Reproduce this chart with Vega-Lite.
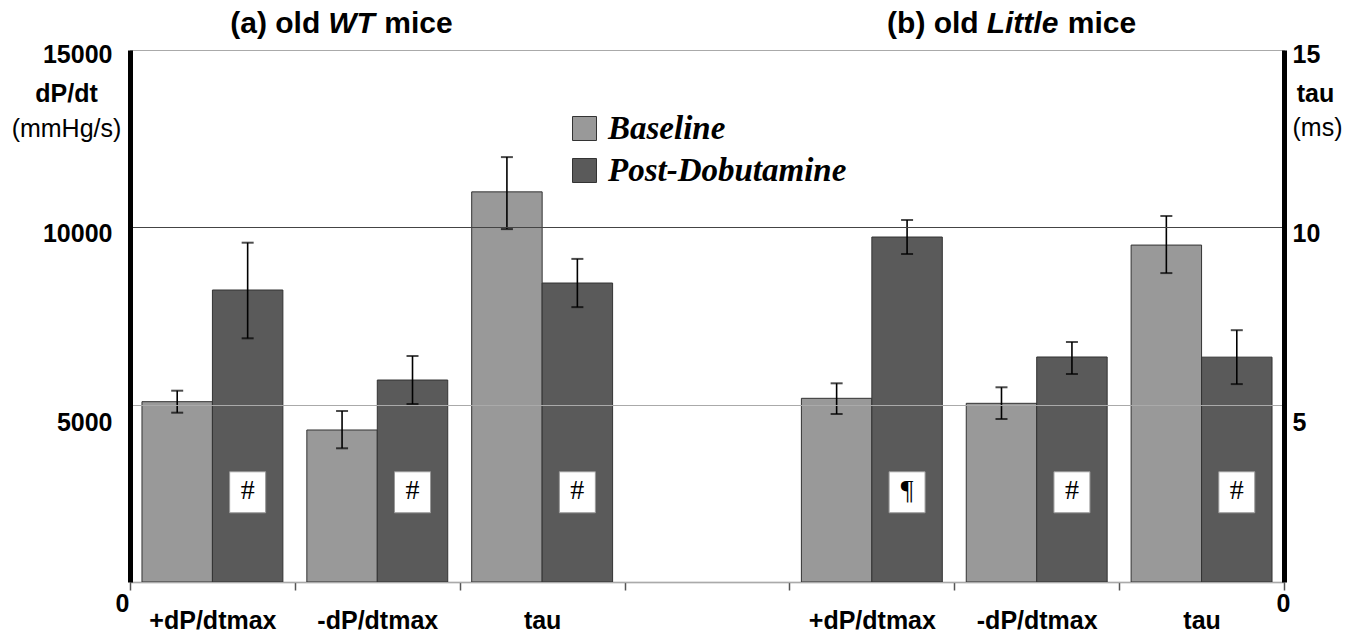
{
  "$schema": "https://vega.github.io/schema/vega-lite/v6.json",
  "autosize": {"type": "none"},
  "width": 1154,
  "height": 532,
  "padding": {"left": 130, "top": 50, "right": 74, "bottom": 53},
  "background": "white",
  "config": {
    "view": {"stroke": "#9a9a9a", "strokeWidth": 1},
    "font": "Liberation Sans"
  },
  "datasets": {
    "bars": [
      {"key": "WT +dP/dtmax", "unit": "dP", "cond": "Baseline", "mean": 5084, "lo": 4774, "hi": 5394},
      {"key": "WT +dP/dtmax", "unit": "dP", "cond": "Post-Dobutamine", "mean": 8233, "lo": 6871, "hi": 9567},
      {"key": "WT -dP/dtmax", "unit": "dP", "cond": "Baseline", "mean": 4286, "lo": 3770, "hi": 4821},
      {"key": "WT -dP/dtmax", "unit": "dP", "cond": "Post-Dobutamine", "mean": 5695, "lo": 5019, "hi": 6372},
      {"key": "WT tau", "unit": "tau", "cond": "Baseline", "mean": 11.0, "lo": 9.95, "hi": 11.98},
      {"key": "WT tau", "unit": "tau", "cond": "Post-Dobutamine", "mean": 8.43, "lo": 7.75, "hi": 9.11},
      {"key": "Little +dP/dtmax", "unit": "dP", "cond": "Baseline", "mean": 5179, "lo": 4737, "hi": 5602},
      {"key": "Little +dP/dtmax", "unit": "dP", "cond": "Post-Dobutamine", "mean": 9727, "lo": 9248, "hi": 10207},
      {"key": "Little -dP/dtmax", "unit": "dP", "cond": "Baseline", "mean": 5038, "lo": 4596, "hi": 5490},
      {"key": "Little -dP/dtmax", "unit": "dP", "cond": "Post-Dobutamine", "mean": 6344, "lo": 5864, "hi": 6767},
      {"key": "Little tau", "unit": "tau", "cond": "Baseline", "mean": 9.5, "lo": 8.71, "hi": 10.32},
      {"key": "Little tau", "unit": "tau", "cond": "Post-Dobutamine", "mean": 6.34, "lo": 5.58, "hi": 7.10}
    ],
    "notes": [
      {"key": "WT +dP/dtmax", "cond": "Post-Dobutamine", "sym": "#"},
      {"key": "WT -dP/dtmax", "cond": "Post-Dobutamine", "sym": "#"},
      {"key": "WT tau", "cond": "Post-Dobutamine", "sym": "#"},
      {"key": "Little +dP/dtmax", "cond": "Post-Dobutamine", "sym": "¶"},
      {"key": "Little -dP/dtmax", "cond": "Post-Dobutamine", "sym": "#"},
      {"key": "Little tau", "cond": "Post-Dobutamine", "sym": "#"}
    ]
  },
  "encoding": {
    "x": {
      "field": "key", "type": "nominal",
      "scale": {"domain": ["WT +dP/dtmax", "WT -dP/dtmax", "WT tau", "gap", "Little +dP/dtmax", "Little -dP/dtmax", "Little tau"], "paddingInner": 0, "paddingOuter": 0},
      "axis": {
        "orient": "bottom", "title": null, "labelAngle": 0,
        "domainColor": "#8a8a8a", "domainWidth": 1.5,
        "tickBand": "extent", "tickColor": "#555555", "tickSize": 8, "tickWidth": 1.5,
        "labelExpr": "datum.value == 'gap' ? '' : split(datum.value, ' ')[1]",
        "labelFont": "Liberation Sans", "labelFontSize": 25, "labelFontWeight": "bold", "labelColor": "black",
        "labelBaseline": "alphabetic", "labelPadding": 38
      }
    }
  },
  "layer": [
    {
      "data": {"name": "bars"},
      "transform": [{"filter": "datum.unit == 'dP'"}],
      "mark": {"type": "bar", "stroke": "#333333", "strokeWidth": 1},
      "encoding": {
        "xOffset": {"field": "cond", "type": "nominal", "scale": {"domain": ["Baseline", "Post-Dobutamine"], "paddingInner": 0, "paddingOuter": 0.17}},
        "y": {
          "field": "mean", "type": "quantitative",
          "scale": {"domain": [0, 15000], "nice": false},
          "axis": {
            "orient": "left", "values": [0, 5000, 10000, 15000], "format": "d", "zindex": 1,
            "domainColor": "black", "domainWidth": 5, "ticks": false,
            "labelFont": "Liberation Sans", "labelFontSize": 25, "labelFontWeight": "bold", "labelColor": "black",
            "labelBaseline": "middle",
            "labelPadding": {"condition": {"test": "datum.value == 0", "value": 1}, "value": 18},
            "labelOffset": {"condition": [
              {"test": "datum.value == 15000", "value": 4},
              {"test": "datum.value == 10000", "value": 6},
              {"test": "datum.value == 5000", "value": 18}
            ], "value": 21},
            "grid": true, "gridWidth": 1.2,
            "gridColor": {"condition": {"test": "datum.value == 10000", "value": "#444444"}, "value": "#aaaaaa"},
            "title": "dP/dt", "titleAngle": 0, "titleX": -64, "titleY": 43, "titleAlign": "center", "titleBaseline": "middle",
            "titleFont": "Liberation Sans", "titleFontSize": 25, "titleFontWeight": "bold", "titleColor": "black"
          }
        },
        "color": {
          "field": "cond", "type": "nominal",
          "scale": {"domain": ["Baseline", "Post-Dobutamine"], "range": ["#999999", "#5a5a5a"]},
          "legend": {
            "orient": "none", "legendX": 438, "legendY": 62, "title": null,
            "symbolType": "square", "symbolSize": 576, "symbolStrokeColor": "#666666", "symbolStrokeWidth": 1,
            "labelFont": "Liberation Serif", "labelFontSize": 33, "labelFontStyle": "italic", "labelFontWeight": "bold",
            "labelColor": "black", "labelOffset": 7, "rowPadding": 8, "labelLimit": 400
          }
        }
      }
    },
    {
      "data": {"name": "bars"},
      "transform": [{"filter": "datum.unit == 'dP'"}],
      "mark": {"type": "rule", "color": "black", "strokeWidth": 1.6},
      "encoding": {
        "xOffset": {"field": "cond", "type": "nominal"},
        "y": {"field": "lo", "type": "quantitative", "scale": {"domain": [0, 15000], "nice": false}, "axis": null},
        "y2": {"field": "hi"}
      }
    },
    {
      "data": {"name": "bars"},
      "transform": [{"filter": "datum.unit == 'dP'"}, {"fold": ["lo", "hi"], "as": ["end", "v"]}],
      "mark": {"type": "tick", "color": "black", "size": 12, "thickness": 2, "orient": "horizontal"},
      "encoding": {
        "xOffset": {"field": "cond", "type": "nominal"},
        "y": {
          "field": "v", "type": "quantitative", "scale": {"domain": [0, 15000], "nice": false},
          "axis": {
            "orient": "left", "labels": false, "ticks": false, "domain": false, "grid": false,
            "title": "(mmHg/s)", "titleAngle": 0, "titleX": -64, "titleY": 78, "titleAlign": "center", "titleBaseline": "middle",
            "titleFont": "Liberation Sans", "titleFontSize": 25, "titleFontWeight": "normal", "titleColor": "black"
          }
        }
      }
    },
    {
      "data": {"name": "bars"},
      "transform": [{"filter": "datum.unit == 'tau'"}],
      "mark": {"type": "bar", "stroke": "#333333", "strokeWidth": 1},
      "encoding": {
        "xOffset": {"field": "cond", "type": "nominal"},
        "y": {
          "field": "mean", "type": "quantitative",
          "scale": {"domain": [0, 15], "nice": false},
          "axis": {
            "orient": "right", "values": [0, 5, 10, 15], "zindex": 1,
            "domainColor": "black", "domainWidth": 5, "ticks": false, "grid": false,
            "labelFont": "Liberation Sans", "labelFontSize": 25, "labelFontWeight": "bold", "labelColor": "black",
            "labelBaseline": "middle",
            "labelPadding": {"condition": {"test": "datum.value == 0", "value": -8}, "value": 8},
            "labelOffset": {"condition": [
              {"test": "datum.value == 15", "value": 4},
              {"test": "datum.value == 10", "value": 6},
              {"test": "datum.value == 5", "value": 18}
            ], "value": 21},
            "title": "tau", "titleAngle": 0, "titleX": 31, "titleY": 43, "titleAlign": "center", "titleBaseline": "middle",
            "titleFont": "Liberation Sans", "titleFontSize": 25, "titleFontWeight": "bold", "titleColor": "black"
          }
        },
        "color": {"field": "cond", "type": "nominal"}
      }
    },
    {
      "data": {"name": "bars"},
      "transform": [{"filter": "datum.unit == 'tau'"}],
      "mark": {"type": "rule", "color": "black", "strokeWidth": 1.6},
      "encoding": {
        "xOffset": {"field": "cond", "type": "nominal"},
        "y": {"field": "lo", "type": "quantitative", "scale": {"domain": [0, 15], "nice": false}, "axis": null},
        "y2": {"field": "hi"}
      }
    },
    {
      "data": {"name": "bars"},
      "transform": [{"filter": "datum.unit == 'tau'"}, {"fold": ["lo", "hi"], "as": ["end", "v"]}],
      "mark": {"type": "tick", "color": "black", "size": 12, "thickness": 2, "orient": "horizontal"},
      "encoding": {
        "xOffset": {"field": "cond", "type": "nominal"},
        "y": {
          "field": "v", "type": "quantitative", "scale": {"domain": [0, 15], "nice": false},
          "axis": {
            "orient": "right", "labels": false, "ticks": false, "domain": false, "grid": false,
            "title": "(ms)", "titleAngle": 0, "titleX": 33, "titleY": 77, "titleAlign": "center", "titleBaseline": "middle",
            "titleFont": "Liberation Sans", "titleFontSize": 25, "titleFontWeight": "normal", "titleColor": "black"
          }
        }
      }
    },
    {
      "data": {"name": "notes"},
      "mark": {"type": "point", "shape": "M-0.878,-1H0.878V1H-0.878Z", "size": 1681, "filled": true, "fill": "white", "stroke": "#999999", "strokeWidth": 1, "opacity": 1},
      "encoding": {
        "xOffset": {"field": "cond", "type": "nominal"},
        "y": {"datum": 2530, "type": "quantitative", "scale": {"domain": [0, 15000], "nice": false}, "axis": null}
      }
    },
    {
      "data": {"name": "notes"},
      "mark": {"type": "text", "font": "Liberation Serif", "fontSize": 28, "color": "black", "baseline": "middle", "align": "center"},
      "encoding": {
        "xOffset": {"field": "cond", "type": "nominal"},
        "y": {"datum": 2560, "type": "quantitative", "scale": {"domain": [0, 15000], "nice": false}, "axis": null},
        "text": {"field": "sym"}
      }
    },
    {
      "data": {"values": [{}]},
      "mark": {"type": "text", "text": "(a) old", "font": "Liberation Sans", "fontSize": 30, "fontWeight": "bold", "color": "black", "align": "right", "baseline": "alphabetic", "dx": -57},
      "encoding": {
        "x": {"datum": "WT -dP/dtmax", "type": "nominal"},
        "y": {"datum": 15480, "type": "quantitative", "scale": {"domain": [0, 15000], "nice": false}, "axis": null}
      }
    },
    {
      "data": {"values": [{}]},
      "mark": {"type": "text", "text": "WT", "font": "Liberation Sans", "fontSize": 30, "fontWeight": "bold", "fontStyle": "italic", "color": "black", "align": "left", "baseline": "alphabetic", "dx": -49},
      "encoding": {
        "x": {"datum": "WT -dP/dtmax", "type": "nominal"},
        "y": {"datum": 15480, "type": "quantitative", "scale": {"domain": [0, 15000], "nice": false}, "axis": null}
      }
    },
    {
      "data": {"values": [{}]},
      "mark": {"type": "text", "text": "mice", "font": "Liberation Sans", "fontSize": 30, "fontWeight": "bold", "color": "black", "align": "left", "baseline": "alphabetic", "dx": 7},
      "encoding": {
        "x": {"datum": "WT -dP/dtmax", "type": "nominal"},
        "y": {"datum": 15480, "type": "quantitative", "scale": {"domain": [0, 15000], "nice": false}, "axis": null}
      }
    },
    {
      "data": {"values": [{}]},
      "mark": {"type": "text", "text": "(b) old", "font": "Liberation Sans", "fontSize": 30, "fontWeight": "bold", "color": "black", "align": "right", "baseline": "alphabetic", "dx": -58},
      "encoding": {
        "x": {"datum": "Little -dP/dtmax", "type": "nominal"},
        "y": {"datum": 15480, "type": "quantitative", "scale": {"domain": [0, 15000], "nice": false}, "axis": null}
      }
    },
    {
      "data": {"values": [{}]},
      "mark": {"type": "text", "text": "Little", "font": "Liberation Sans", "fontSize": 30, "fontWeight": "bold", "fontStyle": "italic", "color": "black", "align": "left", "baseline": "alphabetic", "dx": -50},
      "encoding": {
        "x": {"datum": "Little -dP/dtmax", "type": "nominal"},
        "y": {"datum": 15480, "type": "quantitative", "scale": {"domain": [0, 15000], "nice": false}, "axis": null}
      }
    },
    {
      "data": {"values": [{}]},
      "mark": {"type": "text", "text": "mice", "font": "Liberation Sans", "fontSize": 30, "fontWeight": "bold", "color": "black", "align": "left", "baseline": "alphabetic", "dx": 31},
      "encoding": {
        "x": {"datum": "Little -dP/dtmax", "type": "nominal"},
        "y": {"datum": 15480, "type": "quantitative", "scale": {"domain": [0, 15000], "nice": false}, "axis": null}
      }
    }
  ],
  "resolve": {"scale": {"y": "independent"}, "axis": {"y": "independent"}}
}
